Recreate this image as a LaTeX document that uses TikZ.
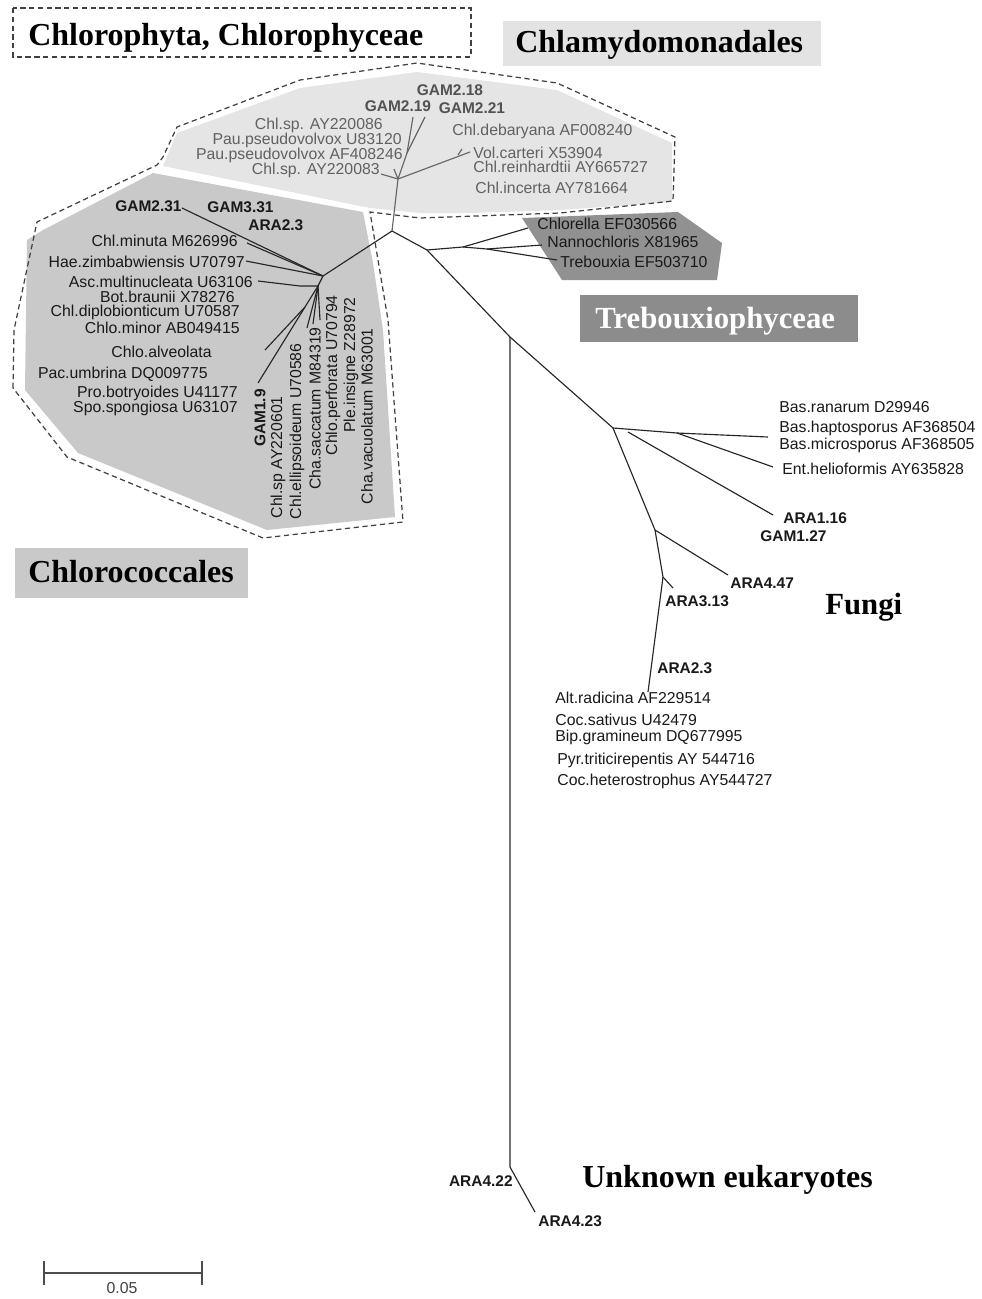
\documentclass[tikz,border=0pt]{standalone}
\usepackage{fontspec}
\setmainfont{Liberation Serif}
\newfontfamily\arialf{Liberation Sans}
\begin{document}
\begin{tikzpicture}[x=0.02cm,y=-0.02cm,
 lbl/.style={font=\arialf\fontsize{9}{10}\selectfont, inner sep=0pt, text=black!90},
 blbl/.style={lbl, font=\arialf\bfseries\fontsize{8.8}{10}\selectfont},
 glbl/.style={lbl, text=black!62},
 gblbl/.style={blbl, text=black!68},
 ttl/.style={font=\bfseries\fontsize{18.2}{20}\selectfont, inner sep=0pt, anchor=base west},
 br/.style={draw=black!85, line width=0.65pt},
 gbr/.style={draw=black!60, line width=0.65pt},
 dsh/.style={draw=black!75, line width=0.7pt, dash pattern=on 3pt off 2pt},
 ]
\useasboundingbox (0,0) rectangle (982,1299);

% ---------- region fills ----------
\fill[black!10] (163,166) -- (177,133) -- (300,88) -- (417,72) -- (557,90) -- (672,143)
  -- (672,202) -- (560,210) -- (470,213) -- (420,213) -- (370,208) -- cycle;
\fill[black!21] (153,173) -- (363,212) -- (373,263) -- (383,330) -- (395,517) -- (267,530)
  -- (78,453) -- (25,390) -- (27,240) -- (43,230) -- cycle;
\fill[black!43] (522,218) -- (678,212) -- (722,243) -- (717,280) -- (562,280) -- cycle;
\draw[dsh] (13,388) -- (14,330) -- (37,222) -- (157,165) -- (163,157) -- (177,127) -- (300,80)
  -- (417,63) -- (557,83) -- (675,137) -- (673,201) -- (560,213) -- (420,218) -- (370,212)
  -- (388,320) -- (403,522) -- (263,538) -- (67,457) -- cycle;

% ---------- title boxes ----------
\draw[dsh] (13,8) rectangle (471,57);
\node[ttl] (tChloro) at (28,45) {Chlorophyta, Chlorophyceae};
\fill[black!11] (503,21) rectangle (821,66);
\node[ttl] (tChlam) at (515,52) {Chlamydomonadales};
\fill[black!45] (580,295) rectangle (858,342);
\node[ttl, text=white, font=\bfseries\fontsize{17.5}{20}\selectfont] (tTreb) at (595,328) {Trebouxiophyceae};
\fill[black!21] (15,548) rectangle (248,598);
\node[ttl] (tCocc) at (28,582) {Chlorococcales};
\node[ttl, font=\bfseries\fontsize{17.5}{20}\selectfont] (tFungi) at (825,614) {Fungi};
\node[ttl] (tUnk) at (582,1187) {Unknown eukaryotes};

% ---------- tree joints ----------
\coordinate (A) at (392,231);
\coordinate (C) at (398,179);
\coordinate (C2) at (407,153);
\coordinate (c19) at (413,117);
\coordinate (c21) at (425,117);
\coordinate (cL) at (381,174);
\coordinate (cLs) at (394,169);
\coordinate (cR) at (470,152);
\coordinate (cRs) at (462,149);
\coordinate (cRf) at (458,155);
\coordinate (B) at (323,276);
\coordinate (B2) at (318,286);
\coordinate (b231) at (182,208);
\coordinate (bmin) at (247,243);
\coordinate (bhae) at (246,261);
\coordinate (basc) at (258,281);
\coordinate (bascs) at (300,286);
\coordinate (bg19) at (258,383);
\coordinate (bP) at (305,307);
\coordinate (bsp) at (265,350);
\coordinate (bell) at (307,328);
\coordinate (bsac) at (313,324);
\coordinate (bper) at (320,320);
\coordinate (D) at (427,250);
\coordinate (T1) at (463,247);
\coordinate (T2) at (487,249);
\coordinate (tch) at (528,228);
\coordinate (tna) at (542,245);
\coordinate (ttr) at (557,260);
\coordinate (E) at (510,337);
\coordinate (U) at (510,1167);
\coordinate (u23) at (535,1212);
\coordinate (F) at (613,428);
\coordinate (Fa) at (628,432);
\coordinate (Fb) at (677,433);
\coordinate (fbas) at (768,437);
\coordinate (fent) at (773,467);
\coordinate (f116) at (773,515);
\coordinate (G) at (655,530);
\coordinate (g447) at (728,575);
\coordinate (H) at (663,577);
\coordinate (h313) at (673,588);
\coordinate (halt) at (648,692);

% ---------- branches ----------
\draw[gbr] (A) -- (C);
\draw[gbr] (C) -- (C2) -- (c19);
\draw[gbr] (C2) -- (c21);
\draw[gbr] (C) -- (cL);
\draw[gbr] (C) -- (cLs);
\draw[gbr] (C) -- (cR);
\draw[gbr] (cRf) -- (cRs);
\draw[br] (A) -- (B);
\draw[br] (B) -- (b231);
\draw[br] (B) -- (bmin);
\draw[br] (B) -- (bhae);
\draw[br] (B) -- (B2);
\draw[br] (B2) -- (bascs) -- (basc);
\draw[br] (B2) -- (bg19);
\draw[br] (bP) -- (bsp);
\draw[br] (B2) -- (bell);
\draw[br] (B2) -- (bsac);
\draw[br] (B2) -- (bper);
\draw[br] (A) -- (D);
\draw[br] (D) -- (T1) -- (T2) -- (tna);
\draw[br] (T1) -- (tch);
\draw[br] (T2) -- (ttr);
\draw[br] (D) -- (E) -- (F);
\draw[br] (E) -- (U) -- (u23);
\draw[br] (F) -- (Fb) -- (fbas);
\draw[br] (Fb) -- (fent);
\draw[br] (Fa) -- (f116);
\draw[br] (F) -- (G) -- (H) -- (halt);
\draw[br] (G) -- (g447);
\draw[br] (H) -- (h313);

% ---------- Chlamydomonadales labels ----------
\node[gblbl] (l1) at (450,90) {GAM2.18};
\node[gblbl] (l2) at (398,106) {GAM2.19};
\node[gblbl] (l3) at (472,108) {GAM2.21};
\node[glbl, anchor=east] (l4) at (383,125) {Chl.sp. AY220086};
\node[glbl, anchor=east] (l5) at (402,140) {Pau.pseudovolvox U83120};
\node[glbl, anchor=east] (l6) at (403,155) {Pau.pseudovolvox AF408246};
\node[glbl, anchor=east] (l7) at (380,170) {Chl.sp. AY220083};
\node[glbl, anchor=west] (l8) at (452,131) {Chl.debaryana AF008240};
\node[glbl, anchor=west] (l9) at (473,153) {Vol.carteri X53904};
\node[glbl, anchor=west] (l10) at (473,167) {Chl.reinhardtii AY665727};
\node[glbl, anchor=west] (l11) at (475,188) {Chl.incerta AY781664};

% ---------- Chlorococcales labels ----------
\node[blbl, anchor=west] (m1) at (115,206) {GAM2.31};
\node[blbl, anchor=west] (m2) at (207,207) {GAM3.31};
\node[blbl, anchor=west] (m3) at (248,225) {ARA2.3};
\node[lbl, anchor=east] (m4) at (238,241) {Chl.minuta M626996};
\node[lbl, anchor=east] (m5) at (245,262) {Hae.zimbabwiensis U70797};
\node[lbl, anchor=east] (m6) at (253,282) {Asc.multinucleata U63106};
\node[lbl, anchor=east] (m7) at (235,297) {Bot.braunii X78276};
\node[lbl, anchor=east] (m8) at (240,312) {Chl.diplobionticum U70587};
\node[lbl, anchor=east] (m9) at (240,328) {Chlo.minor AB049415};
\node[lbl, anchor=east] (m10) at (212,352) {Chlo.alveolata};
\node[lbl, anchor=east] (m11) at (208,374) {Pac.umbrina DQ009775};
\node[lbl, anchor=east] (m12) at (238,393) {Pro.botryoides U41177};
\node[lbl, anchor=east] (m13) at (238,408) {Spo.spongiosa U63107};
\node[blbl, anchor=east, rotate=90] (v1) at (260,389) {GAM1.9};
\node[lbl, anchor=east, rotate=90] (v2) at (278,396) {Chl.sp AY220601};
\node[lbl, anchor=east, rotate=90] (v3) at (297,343) {Chl.ellipsoideum U70586};
\node[lbl, anchor=east, rotate=90] (v4) at (315,327) {Cha.saccatum M84319};
\node[lbl, anchor=east, rotate=90] (v5) at (333,295) {Chlo.perforata U70794};
\node[lbl, anchor=east, rotate=90] (v6) at (351,297) {Ple.insigne Z28972};
\node[lbl, anchor=east, rotate=90] (v7) at (367,328) {Cha.vacuolatum M63001};

% ---------- Trebouxiophyceae labels ----------
\node[lbl, anchor=west] (t1) at (537,224) {Chlorella EF030566};
\node[lbl, anchor=west] (t2) at (547,242) {Nannochloris X81965};
\node[lbl, anchor=west] (t3) at (560,262) {Trebouxia EF503710};

% ---------- Fungi labels ----------
\node[lbl, anchor=west] (f1) at (779,407) {Bas.ranarum D29946};
\node[lbl, anchor=west] (f2) at (779,428) {Bas.haptosporus AF368504};
\node[lbl, anchor=west] (f3) at (779,445) {Bas.microsporus AF368505};
\node[lbl, anchor=west] (f4) at (782,469) {Ent.helioformis AY635828};
\node[blbl, anchor=west] (f5) at (783,518) {ARA1.16};
\node[blbl, anchor=west] (f6) at (760,536) {GAM1.27};
\node[blbl, anchor=west] (f7) at (730,583) {ARA4.47};
\node[blbl, anchor=west] (f8) at (665,601) {ARA3.13};
\node[blbl, anchor=west] (f9) at (657,668) {ARA2.3};
\node[lbl, anchor=west] (f10) at (555,698) {Alt.radicina AF229514};
\node[lbl, anchor=west] (f11) at (555,720) {Coc.sativus U42479};
\node[lbl, anchor=west] (f12) at (555,737) {Bip.gramineum DQ677995};
\node[lbl, anchor=west] (f13) at (557,760) {Pyr.triticirepentis AY 544716};
\node[lbl, anchor=west] (f14) at (557,781) {Coc.heterostrophus AY544727};

% ---------- unknown eukaryotes ----------
\node[blbl, anchor=east] (u1) at (513,1181) {ARA4.22};
\node[blbl, anchor=west] (u2) at (538,1221) {ARA4.23};

% ---------- scale bar ----------
\coordinate (s1) at (44,1273);
\coordinate (s2) at (202,1273);
\draw[draw=black!70, line width=1pt] (s1) -- (s2);
\draw[draw=black!70, line width=0.8pt] ([yshift=-7]s1) -- ([yshift=7]s1);
\draw[draw=black!70, line width=0.8pt] ([yshift=-7]s2) -- ([yshift=7]s2);
\node[lbl, text=black!75] (sc) at (122,1288) {0.05};
\end{tikzpicture}
\end{document}
